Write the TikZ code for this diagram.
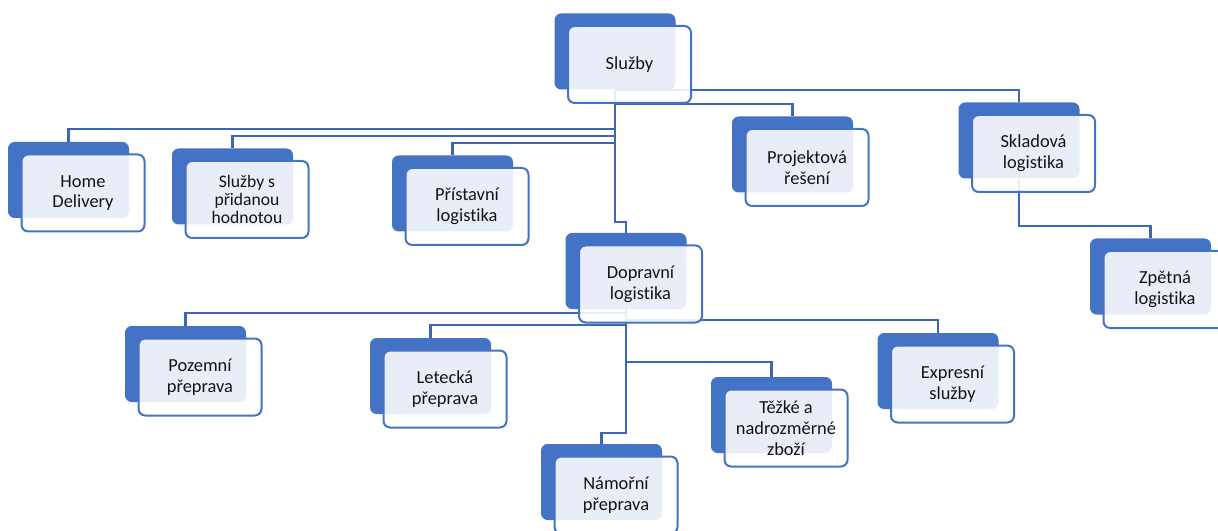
\documentclass[tikz,border=0pt]{standalone}
\usepackage{fontspec}
\setmainfont[Ligatures=NoCommon]{Carlito}
\usetikzlibrary{backgrounds}

\definecolor{boxblue}{HTML}{4472C4}
\definecolor{linkblue}{HTML}{3F66B0}

\tikzset{
  back/.style={fill=boxblue, rounded corners=5pt, minimum width=90.75pt, minimum height=57pt, inner sep=0pt},
  front/.style={draw=boxblue, line width=1.5pt, fill=white, fill opacity=0.88, text opacity=1,
    rounded corners=5pt, minimum width=92.25pt, minimum height=57.75pt, inner sep=0pt,
    align=center, font=\fontsize{13.8}{15.5}\selectfont, text=black!92},
  link/.style={draw=linkblue, line width=1.6pt}
}

\begin{document}
\begin{tikzpicture}[x=0.75pt, y=-0.75pt]
        \useasboundingbox (0,0) rectangle (1218,531);

        % Back boxes
        \node[back] (sluzby) at (615,51.5) {};
        \node[back] (home) at (68.5,180) {};
        \node[back] (pridana) at (232.5,186.5) {};
        \node[back] (pristav) at (452.5,193.5) {};
        \node[back] (projekt) at (792.5,154.5) {};
        \node[back] (sklad) at (1019,140.5) {};
        \node[back] (zpetna) at (1150.5,276.5) {};
        \node[back] (doprav) at (626,271) {};
        \node[back] (pozem) at (185.5,364) {};
        \node[back] (letec) at (430.5,376) {};
        \node[back] (expres) at (938,371) {};
        \node[back] (tezke) at (771.5,415) {};
        \node[back] (namor) at (601.5,482) {};

        % Front boxes with text
        \node[front] (sluzbyT) at ([shift={(14.5,13)}]sluzby) {Služby};
        \node[front] (homeT) at ([shift={(14.5,13)}]home) {Home\\Delivery};
        \node[front, font=\fontsize{13.2}{13.8}\selectfont] (pridanaT) at ([shift={(14.5,13)}]pridana) {Služby s\\přidanou\\hodnotou};
        \node[front] (pristavT) at ([shift={(14.5,13)}]pristav) {Přístavní\\logistika};
        \node[front] (projektT) at ([shift={(14.5,13)}]projekt) {Projektová\\řešení};
        \node[front] (skladT) at ([shift={(14.5,13)}]sklad) {Skladová\\logistika};
        \node[front] (zpetnaT) at ([shift={(14.5,13)}]zpetna) {Zpětná\\logistika};
        \node[front] (dopravT) at ([shift={(14.5,13)}]doprav) {Dopravní\\logistika};
        \node[front] (pozemT) at ([shift={(14.5,13)}]pozem) {Pozemní\\přeprava};
        \node[front] (letecT) at ([shift={(14.5,13)}]letec) {Letecká\\přeprava};
        \node[front] (expresT) at ([shift={(14.5,13)}]expres) {Expresní\\služby};
        \node[front, font=\fontsize{13.8}{15.8}\selectfont] (tezkeT) at ([shift={(14.5,13)}]tezke) {Těžké a\\nadrozměrné\\zboží};
        \node[front] (namorT) at ([shift={(14.5,13)}]namor) {Námořní\\přeprava};

        % Connectors
        \begin{scope}[on background layer]
        \draw[link] (sluzby.south) -- ++(0,39.5) -| (home.north);  % Home Delivery
        \draw[link] (sluzby.south) -- ++(0,46.5) -| (pridana.north);  % pridana hodnota
        \draw[link] (sluzby.south) -- ++(0,53.5) -| (pristav.north);  % pristavni
        \draw[link] (sluzby.south) -- ++(0,14.5) -| (projekt.north);  % projektova
        \draw[link] (sluzby.south) -| (sklad.north);  % skladova
        \draw[link] (sluzby.south) -- ++(0,132.5) -| (doprav.north);  % dopravni
        \draw[link] (sklad.south) -- ++(0,47.5) -| (zpetna.north);  % zpetna
        \draw[link] (doprav.south) -- ++(0,4) -| (pozem.north);  % pozemni
        \draw[link] (doprav.south) -- ++(0,16) -| (letec.north);  % letecka
        \draw[link] (doprav.south) -- ++(0,11) -| (expres.north);  % expresni
        \draw[link] (doprav.south) -- ++(0,53) -| (tezke.north);  % tezke
        \draw[link] (doprav.south) -- ++(0,124) -| (namor.north);  % namorni
        \end{scope}
    \end{tikzpicture}
\end{document}
